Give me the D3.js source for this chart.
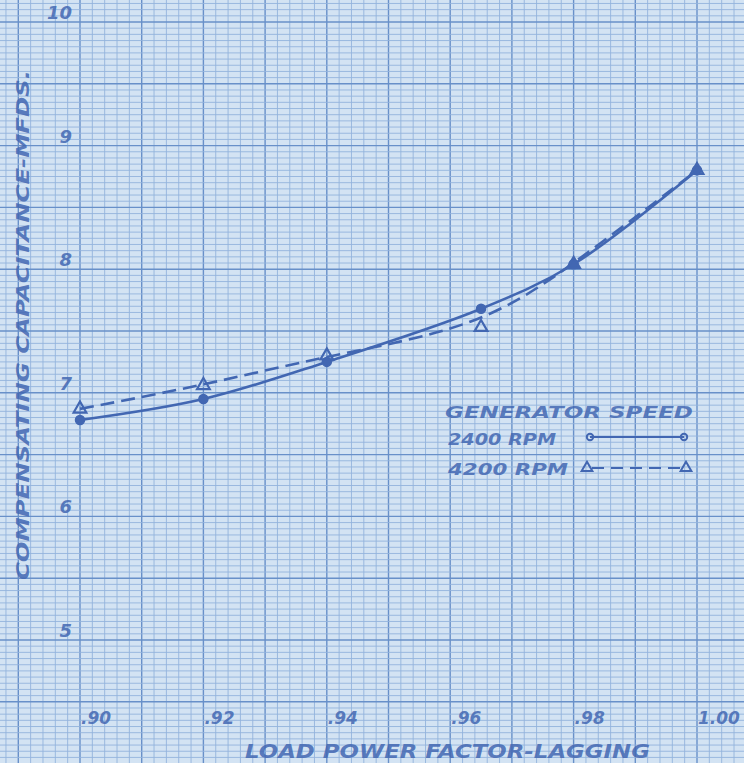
<!DOCTYPE html>
<html>
<head>
<meta charset="utf-8">
<script src="https://cdn.jsdelivr.net/npm/d3@7"></script>
<style>
  body { margin: 0; background: #d3e3f3; }
  svg { display: block; }
  text { font-family: "DejaVu Sans", sans-serif; font-style: italic; font-weight: bold; }
</style>
</head>
<body>
<div id="chart"></div>
<script>
// values
var powerFactor = [0.90, 0.92, 0.94, 0.965, 0.98, 1.00];
var rpm2400 = [6.78, 6.95, 7.25, 7.68, 8.04, 8.80];
var rpm4200 = [6.87, 7.06, 7.30, 7.53, 8.04, 8.80];
var xTickValues = [0.90, 0.92, 0.94, 0.96, 0.98, 1.00];
var xTickLabels = [".90", ".92", ".94", ".96", ".98", "1.00"];
var yTickValues = [5, 6, 7, 8, 9, 10];
var legendLabels = ["2400 RPM", "4200 RPM"];

var width = 744, height = 763;
var ink = "#4267b2";

var svg = d3.select("#chart")
    .append("svg")
    .attr("width", width)
    .attr("height", height);

// scales: .02 of power factor and 1 mfd are both about 123 px on the sheet
var x = d3.scaleLinear()
    .domain([0.90, 1.00])
    .range([80, 697]);
var y = d3.scaleLinear()
    .domain([5, 10])
    .range([640, 22]);

// graph paper background
svg.append("rect")
    .attr("width", width).attr("height", height)
    .attr("fill", "#d3e3f3");

var xMin = x.invert(0), xMax = x.invert(width);
var yMin = y.invert(height), yMax = y.invert(0);
var fineX = d3.range(Math.ceil(xMin / 0.002) * 0.002, xMax, 0.002);
var fineY = d3.range(Math.ceil(yMin / 0.05) * 0.05, yMax, 0.05);

function isMajor(v, step) {
    var r = Math.abs(v / step - Math.round(v / step));
    return r < 0.01;
}

var grid = svg.append("g");
grid.selectAll(".vx")
    .data(fineX)
    .enter()
    .append("line")
    .attr("x1", function(d) { return x(d); })
    .attr("x2", function(d) { return x(d); })
    .attr("y1", 0).attr("y2", height)
    .attr("stroke", function(d) { return isMajor(d, 0.01) ? "#6890c9" : "#93b3dd"; })
    .attr("stroke-width", function(d) { return isMajor(d, 0.01) ? 1.4 : 0.9; });
grid.selectAll(".hy")
    .data(fineY)
    .enter()
    .append("line")
    .attr("y1", function(d) { return y(d); })
    .attr("y2", function(d) { return y(d); })
    .attr("x1", 0).attr("x2", width)
    .attr("stroke", function(d) { return isMajor(d, 0.5) ? "#6890c9" : "#93b3dd"; })
    .attr("stroke-width", function(d) { return isMajor(d, 0.5) ? 1.4 : 0.9; });

// tick labels, hand lettered above / right of the heavy lines
svg.selectAll(".ylab")
    .data(yTickValues)
    .enter()
    .append("text")
    .attr("x", 72)
    .attr("y", function(d) { return y(d) - 3; })
    .attr("text-anchor", "end")
    .attr("font-size", 18)
    .attr("fill", ink)
    .attr("fill-opacity", 0.85)
    .text(function(d) { return d; });

svg.selectAll(".xlab")
    .data(xTickValues)
    .enter()
    .append("text")
    .attr("x", function(d) { return x(d) + 1; })
    .attr("y", 724)
    .attr("font-size", 17)
    .attr("fill", ink)
    .attr("fill-opacity", 0.85)
    .text(function(d, i) { return xTickLabels[i]; });

// axis titles
svg.append("text")
    .attr("x", 245)
    .attr("y", 758)
    .attr("font-size", 19)
    .attr("textLength", 405)
    .attr("lengthAdjust", "spacingAndGlyphs")
    .attr("fill", ink)
    .attr("fill-opacity", 0.85)
    .text("LOAD POWER FACTOR-LAGGING");

svg.append("text")
    .attr("transform", "translate(29,580)rotate(-90)")
    .attr("font-size", 18)
    .attr("textLength", 510)
    .attr("lengthAdjust", "spacingAndGlyphs")
    .attr("fill", ink)
    .attr("fill-opacity", 0.85)
    .text("COMPENSATING CAPACITANCE-MFDS.");

// curves
var solid = d3.line()
    .x(function(d, i) { return x(powerFactor[i]); })
    .y(function(d) { return y(d); })
    .curve(d3.curveCatmullRom);
var dashed = d3.line()
    .x(function(d, i) { return x(powerFactor[i]); })
    .y(function(d) { return y(d); })
    .curve(d3.curveBasis);

svg.append("path")
    .attr("d", solid(rpm2400))
    .attr("fill", "none")
    .attr("stroke", ink)
    .attr("stroke-width", 2.6);
svg.append("path")
    .attr("d", dashed(rpm4200))
    .attr("fill", "none")
    .attr("stroke", ink)
    .attr("stroke-width", 2.6)
    .attr("stroke-dasharray", "14,7");

// markers
var tri = d3.symbol().type(d3.symbolTriangle).size(70);
svg.selectAll(".circ")
    .data(rpm2400)
    .enter()
    .append("circle")
    .attr("cx", function(d, i) { return x(powerFactor[i]); })
    .attr("cy", function(d) { return y(d); })
    .attr("r", 4.5)
    .attr("fill", ink)
    .attr("stroke", ink)
    .attr("stroke-width", 1.5);
svg.selectAll(".tri")
    .data(rpm4200)
    .enter()
    .append("path")
    .attr("d", tri)
    .attr("transform", function(d, i) { return "translate(" + x(powerFactor[i]) + "," + y(d) + ")"; })
    .attr("fill", "none")
    .attr("stroke", ink)
    .attr("stroke-width", 2.2);

// legend
var legend = svg.append("g");
legend.append("text")
    .attr("x", 445).attr("y", 418)
    .attr("font-size", 15)
    .attr("textLength", 248)
    .attr("lengthAdjust", "spacingAndGlyphs")
    .attr("fill", ink)
    .attr("fill-opacity", 0.85)
    .text("GENERATOR SPEED");

legend.selectAll(".ltext")
    .data(legendLabels)
    .enter()
    .append("text")
    .attr("x", 448)
    .attr("y", function(d, i) { return 445 + i * 30; })
    .attr("font-size", 15)
    .attr("textLength", function(d, i) { return i == 0 ? 108 : 120; })
    .attr("lengthAdjust", "spacingAndGlyphs")
    .attr("fill", ink)
    .attr("fill-opacity", 0.85)
    .text(function(d) { return d; });

legend.append("line")
    .attr("x1", 590).attr("x2", 684)
    .attr("y1", 437).attr("y2", 437)
    .attr("stroke", ink).attr("stroke-width", 2);
legend.selectAll(".lc")
    .data([590, 684])
    .enter()
    .append("circle")
    .attr("cx", function(d) { return d; })
    .attr("cy", 437)
    .attr("r", 3.2)
    .attr("fill", "none")
    .attr("stroke", ink)
    .attr("stroke-width", 2);

legend.append("line")
    .attr("x1", 592).attr("x2", 682)
    .attr("y1", 468).attr("y2", 468)
    .attr("stroke", ink).attr("stroke-width", 2)
    .attr("stroke-dasharray", "12,7");
legend.selectAll(".lt")
    .data([587, 686])
    .enter()
    .append("path")
    .attr("d", d3.symbol().type(d3.symbolTriangle).size(50))
    .attr("transform", function(d) { return "translate(" + d + ",468)"; })
    .attr("fill", "none")
    .attr("stroke", ink)
    .attr("stroke-width", 2);
</script>
</body>
</html>
